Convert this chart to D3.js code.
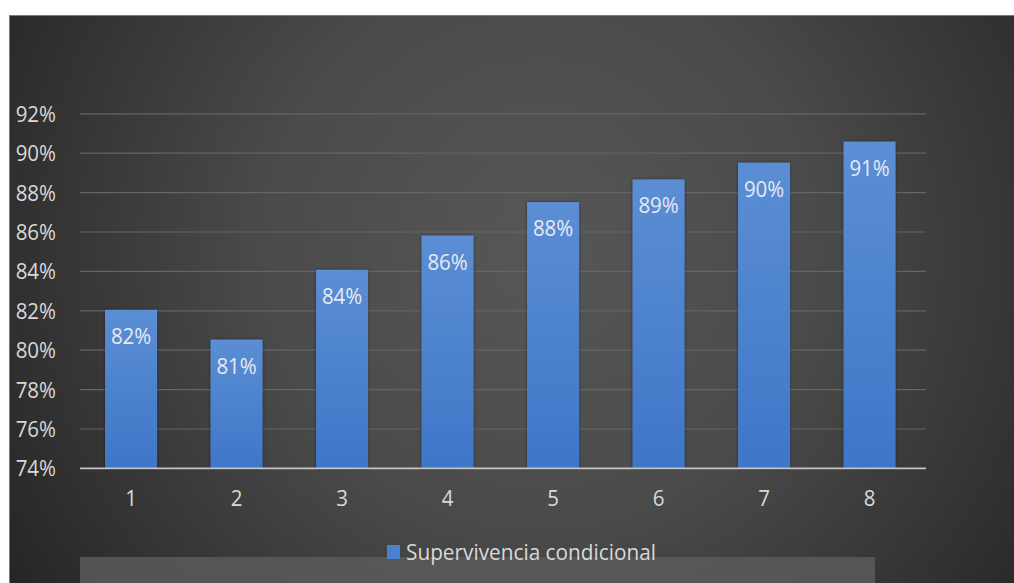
<!DOCTYPE html>
<html>
<head>
<meta charset="utf-8">
<script src="https://cdn.jsdelivr.net/npm/d3@7"></script>
<style>
  html, body { margin: 0; padding: 0; background: #ffffff; }
  svg { display: block; }
  text { font-family: "Open Sans", "Noto Sans", sans-serif; }
</style>
</head>
<body>
<svg id="chart" width="1014" height="583"></svg>
<script>
// Conditional survival by year
const categories = ["1", "2", "3", "4", "5", "6", "7", "8"];
const survival = [0.8205, 0.8054, 0.8408, 0.8582, 0.8752, 0.8867, 0.8952, 0.9059];
const yTicks = [0.74, 0.76, 0.78, 0.80, 0.82, 0.84, 0.86, 0.88, 0.90, 0.92];
const seriesName = "Supervivencia condicional";

const svg = d3.select("#chart");
const W = 1014, H = 583;
const FS = 20.5;      // label font size
const SY = 1.1;       // vertical stretch of the label glyphs
const pct = d3.format(".0%");

const defs = svg.append("defs");

// Dark radial backdrop
const bg = defs.append("radialGradient")
  .attr("id", "bgGrad")
  .attr("gradientUnits", "userSpaceOnUse")
  .attr("cx", 540).attr("cy", 250).attr("r", 620);
bg.append("stop").attr("offset", "0%").attr("stop-color", "#575757");
bg.append("stop").attr("offset", "45%").attr("stop-color", "#4a4a4a");
bg.append("stop").attr("offset", "100%").attr("stop-color", "#262626");

// Bar fill
const barGrad = defs.append("linearGradient")
  .attr("id", "barGrad").attr("x1", 0).attr("y1", 0).attr("x2", 0).attr("y2", 1);
barGrad.append("stop").attr("offset", "0%").attr("stop-color", "#5b8ed4");
barGrad.append("stop").attr("offset", "100%").attr("stop-color", "#3f76c8");

const shadow = defs.append("filter").attr("id", "barShadow")
  .attr("x", "-20%").attr("y", "-5%").attr("width", "140%").attr("height", "110%");
shadow.append("feDropShadow")
  .attr("dx", 0).attr("dy", 0).attr("stdDeviation", 1.6)
  .attr("flood-color", "#000").attr("flood-opacity", 0.5);

// Chart area
svg.append("rect")
  .attr("x", 9.5).attr("y", 15.5)
  .attr("width", W).attr("height", H)
  .attr("fill", "url(#bgGrad)")
  .attr("stroke", "#7a7a7a").attr("stroke-width", 1);

// Legend strip
svg.append("rect")
  .attr("x", 80).attr("y", 557)
  .attr("width", 795).attr("height", 30)
  .attr("fill", "#5a5a5a").attr("opacity", 0.85);

const x = d3.scaleBand()
  .domain(categories)
  .range([78.3, 922.3])
  .paddingInner(0.507)
  .paddingOuter(0.2535);

const y = d3.scaleLinear()
  .domain([0.74, 0.92])
  .range([468.4, 113.8]);

const gridX0 = 80, gridX1 = 926;

// Horizontal gridlines
svg.append("g")
  .selectAll("line")
  .data(yTicks.filter(t => t > 0.74))
  .join("line")
  .attr("x1", gridX0).attr("x2", gridX1)
  .attr("y1", d => y(d)).attr("y2", d => y(d))
  .attr("stroke", "#656565").attr("stroke-width", 1.2);

// Y axis labels
const yAxis = d3.axisLeft(y)
  .tickValues(yTicks)
  .tickFormat(pct)
  .tickSize(0)
  .tickPadding(0);
const gy = svg.append("g").attr("transform", "translate(56,0)").call(yAxis);
gy.select(".domain").remove();
gy.selectAll("text")
  .attr("fill", "#d9d9d9")
  .attr("font-size", FS)
  .attr("x", 0).attr("y", 0)
  .attr("dy", "0.33em")
  .attr("transform", `scale(1,${SY})`);

// Bars
svg.append("g")
  .selectAll("rect")
  .data(survival)
  .join("rect")
  .attr("x", (d, i) => x(categories[i]))
  .attr("width", x.bandwidth())
  .attr("y", d => y(d))
  .attr("height", d => y(0.74) - y(d))
  .attr("fill", "url(#barGrad)")
  .attr("filter", "url(#barShadow)");

// Category baseline
svg.append("line")
  .attr("x1", gridX0).attr("x2", gridX1)
  .attr("y1", y(0.74)).attr("y2", y(0.74))
  .attr("stroke", "#c4c4c4").attr("stroke-width", 1.8);

// Data labels inside bars
svg.append("g")
  .selectAll("g")
  .data(survival)
  .join("g")
  .attr("transform", (d, i) => `translate(${x(categories[i]) + x.bandwidth() / 2},${y(d) + 34})`)
  .append("text")
  .attr("text-anchor", "middle")
  .attr("fill", "#e6eaf2")
  .attr("font-size", FS)
  .attr("transform", `scale(1,${SY})`)
  .text(d => pct(d));

// X axis labels
const xAxis = d3.axisBottom(x).tickSize(0).tickPadding(0);
const gx = svg.append("g").attr("transform", `translate(0,${y(0.74)})`).call(xAxis);
gx.select(".domain").remove();
gx.selectAll("text")
  .attr("fill", "#d9d9d9")
  .attr("font-size", FS)
  .attr("dy", 0)
  .attr("y", 37.5 / SY)
  .attr("transform", `scale(1,${SY})`);

// Legend
const legend = svg.append("g");
legend.append("rect")
  .attr("x", 387).attr("y", 545)
  .attr("width", 13).attr("height", 14)
  .attr("fill", "#4a80d0");
legend.append("g")
  .attr("transform", "translate(406,559.5)")
  .append("text")
  .attr("fill", "#d9d9d9")
  .attr("font-size", FS)
  .attr("textLength", 250)
  .attr("lengthAdjust", "spacingAndGlyphs")
  .attr("transform", `scale(1,${SY})`)
  .text(seriesName);
</script>
</body>
</html>
